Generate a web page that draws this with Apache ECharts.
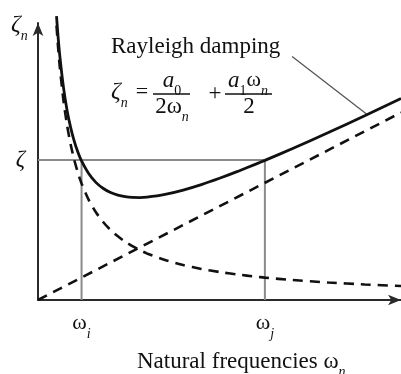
<!DOCTYPE html>
<html>
<head>
<meta charset="utf-8">
<script src="https://cdn.jsdelivr.net/npm/echarts@6/dist/echarts.min.js"></script>
<style>
  html, body { margin: 0; padding: 0; background: #fff; }
  #chart { width: 401px; height: 374px; }
</style>
</head>
<body>
<div id="chart"></div>
<script>
// Rayleigh damping: damping ratio versus natural frequency
const freq = [0.51, 0.55, 0.6, 0.7, 0.8, 0.9, 1.0, 1.1, 1.2, 1.4, 1.6, 1.8, 2.0, 2.2, 2.4,
              2.6, 2.8, 3.0, 3.5, 4.0, 4.5, 5.0, 5.5, 6.0, 6.25, 7.0, 8.0, 9.0, 10.0];
// mass-proportional part a0 / (2 ωn)
const massTerm = [1.961, 1.818, 1.667, 1.429, 1.25, 1.111, 1.0, 0.909, 0.833, 0.714, 0.625, 0.556, 0.5, 0.455, 0.417,
                  0.385, 0.357, 0.333, 0.286, 0.25, 0.222, 0.2, 0.182, 0.167, 0.16, 0.143, 0.125, 0.111, 0.1];
// total Rayleigh damping ζn
const totalDamping = [2.029, 1.892, 1.747, 1.523, 1.357, 1.232, 1.134, 1.056, 0.994, 0.902, 0.839, 0.797, 0.768, 0.75, 0.739,
                      0.733, 0.732, 0.735, 0.755, 0.786, 0.825, 0.87, 0.919, 0.971, 0.998, 1.081, 1.197, 1.317, 1.44];
// stiffness-proportional part a1 ωn / 2
const stiffFreq = [0, 10];
const stiffTerm = [0, 1.34];
// reference frequencies ωi, ωj and target damping ζ
const refFreqs = [1.2, 6.25];
const refNames = ['i', 'j'];
const targetZeta = 1.0;
// leader from the "Rayleigh damping" caption to the curve
const leaderFreq = [7.0, 9.05];
const leaderZeta = [1.74, 1.33];

const serif = '"Liberation Serif", "DejaVu Serif", serif';
const ink = '#111';
const pair = (xs, ys) => xs.map((x, i) => [x, ys[i]]);

// rich-text styles: a main glyph sitting high and a subscript hanging low
const richStyles = {
  z: { fontFamily: serif, fontSize: 24, fontStyle: 'italic', fill: ink, verticalAlign: 'top', padding: [0, 0, 6, 0] },
  a: { fontFamily: serif, fontSize: 23, fontStyle: 'italic', fill: ink, verticalAlign: 'top', padding: [0, 0, 6, 0] },
  w: { fontFamily: serif, fontSize: 22, fill: ink, verticalAlign: 'top', padding: [0, 0, 6, 0] },
  t: { fontFamily: serif, fontSize: 23, fill: ink, verticalAlign: 'top', padding: [0, 0, 6, 0] },
  n: { fontFamily: serif, fontSize: 14, fontStyle: 'italic', fill: ink, verticalAlign: 'bottom' },
  d: { fontFamily: serif, fontSize: 14, fill: ink, verticalAlign: 'bottom' }
};

const chart = echarts.init(document.getElementById('chart'), null, { renderer: 'canvas' });

const rich = (x, y, text, align) => ({
  type: 'text', x: x, y: y,
  style: { text: text, rich: richStyles, textAlign: align || 'center', textVerticalAlign: 'middle' }
});
const txt = (x, y, text, size) => ({
  type: 'text', x: x, y: y,
  style: { text: text, fill: ink, font: size + 'px ' + serif, textAlign: 'center', textVerticalAlign: 'middle' }
});
const bar = (x1, x2, y) => ({
  type: 'line', shape: { x1: x1, y1: y, x2: x2, y2: y },
  style: { stroke: ink, lineWidth: 1.5 }
});

chart.setOption({
  animation: false,
  grid: { left: 38, right: 0, top: 23, bottom: 74 },
  xAxis: {
    type: 'value', min: 0, max: 10,
    axisLine: { show: true, symbol: ['none', 'arrow'], symbolSize: [8, 13],
                lineStyle: { color: '#2a2a2a', width: 2 } },
    axisTick: { show: false },
    splitLine: { show: false },
    axisLabel: {
      customValues: refFreqs, margin: 12,
      formatter: v => '{w|ω}{s|' + refNames[refFreqs.indexOf(v)] + '}',
      rich: {
        w: { fontFamily: serif, fontSize: 22, color: ink, verticalAlign: 'top', padding: [0, 0, 7, 0] },
        s: { fontFamily: serif, fontSize: 14, fontStyle: 'italic', color: ink, verticalAlign: 'bottom' }
      }
    }
  },
  yAxis: {
    type: 'value', min: 0, max: 1.98,
    axisLine: { show: true, symbol: ['none', 'arrow'], symbolSize: [8, 13],
                lineStyle: { color: '#2a2a2a', width: 2 } },
    axisTick: { show: false },
    splitLine: { show: false },
    axisLabel: {
      customValues: [targetZeta], margin: 13,
      formatter: () => 'ζ',
      fontFamily: serif, fontSize: 23, fontStyle: 'italic', color: ink
    }
  },
  series: [
    { type: 'line', data: [[0, targetZeta], [refFreqs[1], targetZeta]], symbol: 'none',
      lineStyle: { color: '#8a8a8a', width: 2 }, silent: true },
    { type: 'line', data: [[refFreqs[0], 0], [refFreqs[0], targetZeta]], symbol: 'none',
      lineStyle: { color: '#8a8a8a', width: 2 }, silent: true },
    { type: 'line', data: [[refFreqs[1], 0], [refFreqs[1], targetZeta]], symbol: 'none',
      lineStyle: { color: '#8a8a8a', width: 2 }, silent: true },
    { type: 'line', data: pair(leaderFreq, leaderZeta), symbol: 'none',
      lineStyle: { color: '#555', width: 1.3 }, silent: true },
    { type: 'line', data: pair(stiffFreq, stiffTerm), symbol: 'none',
      lineStyle: { color: ink, width: 2.6, type: [10, 7] } },
    { type: 'line', data: pair(freq, massTerm), symbol: 'none', smooth: 0.2, clip: false,
      lineStyle: { color: ink, width: 2.6, type: [10, 7] } },
    { type: 'line', data: pair(freq, totalDamping), symbol: 'none', smooth: 0.2, clip: false,
      lineStyle: { color: ink, width: 2.8 } }
  ],
  graphic: [
    // axis names
    rich(11, 28, '{z|ζ}{n|n}', 'left'),
    rich(137, 365, '{t|Natural frequencies ω}{n|n}', 'left'),
    // caption and formula
    { type: 'text', x: 111, y: 47, style: { text: 'Rayleigh damping', fill: ink,
      font: '23px ' + serif, textAlign: 'left', textVerticalAlign: 'middle' } },
    rich(111, 95, '{z|ζ}{n|n}', 'left'),
    txt(142, 92, '=', 22),
    rich(172, 84, '{a|a}{d|0}'),
    bar(153, 190, 94),
    rich(172, 110, '{t|2ω}{n|n}'),
    txt(215, 94, '+', 23),
    rich(248, 84, '{a|a}{d|1}{w|ω}{n|n}'),
    bar(225, 272, 94),
    txt(249, 107, '2', 23)
  ]
});
</script>
</body>
</html>
